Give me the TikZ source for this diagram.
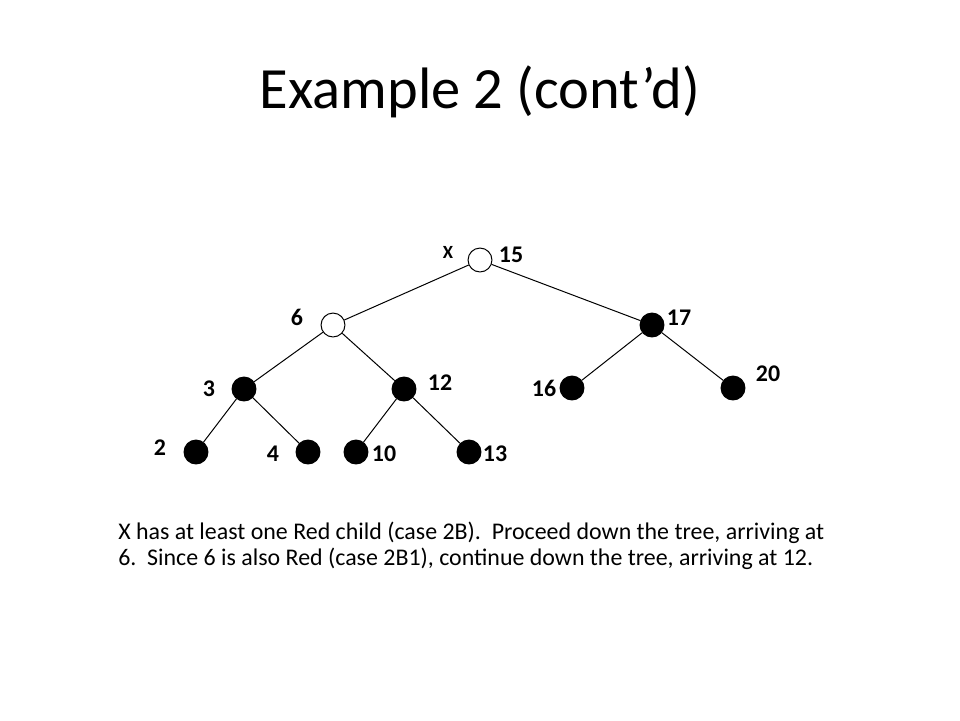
\documentclass[tikz,border=0pt]{standalone}
\usepackage{fontspec}
\setmainfont{Carlito}
\usetikzlibrary{positioning}

\begin{document}
\begin{tikzpicture}[x=0.02646cm, y=-0.02646cm,
    rednode/.style={circle, draw, line width=0.75pt, fill=white, minimum size=18pt, inner sep=0pt},
    blacknode/.style={circle, draw, line width=0.75pt, fill=black, minimum size=18pt, inner sep=0pt},
    key/.style={anchor=base, inner sep=0pt, font=\fontsize{18}{20}\selectfont\bfseries},
    edge/.style={line width=0.75pt}]
          \useasboundingbox (0,0) rectangle (960,720);
          \node (title) [anchor=base, inner sep=0pt, font=\fontsize{44}{52}\selectfont] at (480, 108) {Example 2 (cont’d)};
          \node (T) [rednode] at (480, 260) {};
          \node (L) [rednode] at (333, 325) {};
          \node (R) [blacknode] at (652, 325) {};
          \node (LL) [blacknode] at (244, 389) {};
          \node (LR) [blacknode] at (404, 389) {};
          \node (RL) [blacknode] at (572, 388) {};
          \node (RR) [blacknode] at (733, 388) {};
          \node (LLL) [blacknode] at (196, 452) {};
          \node (LLR) [blacknode] at (308, 452) {};
          \node (LRL) [blacknode] at (356, 452) {};
          \node (LRR) [blacknode] at (469, 452) {};
          \node (TX) [key, font=\fontsize{14}{16}\selectfont\bfseries] at (448, 258) {X};
          \node (TN) [key] at (511, 262) {15};
          \node (LN) [key] at (297, 325) {6};
          \node (RN) [key] at (679, 325) {17};
          \node (LLN) [key] at (209, 396) {3};
          \node (LRN) [key] at (440, 390) {12};
          \node (RLN) [key] at (544, 396) {16};
          \node (RRN) [key] at (768, 381) {20};
          \node (LLLN) [key] at (160, 455) {2};
          \node (LLRN) [key] at (273, 461) {4};
          \node (LRLN) [key] at (384, 461) {10};
          \node (LRRN) [key] at (495, 461) {13};
          \draw [edge] (T) -- (L);
          \draw [edge] (T) -- (R);
          \draw [edge] (L) -- (LL);
          \draw [edge] (L) -- (LR);
          \draw [edge] (R) -- (RL);
          \draw [edge] (R) -- (RR);
          \draw [edge] (LL) -- (LLL);
          \draw [edge] (LL) -- (LLR);
          \draw [edge] (LR) -- (LRL);
          \draw [edge] (LR) -- (LRR);
          \node (note) [anchor=base west, inner sep=0pt, align=left, font=\fontsize{18}{19.5}\selectfont] at (118, 565) {X has at least one Red child (case 2B).\ \ Proceed down the tree, arriving at\\6.\ \ Since 6 is also Red (case 2B1), continue down the tree, arriving at 12.};
  \end{tikzpicture}
\end{document}
